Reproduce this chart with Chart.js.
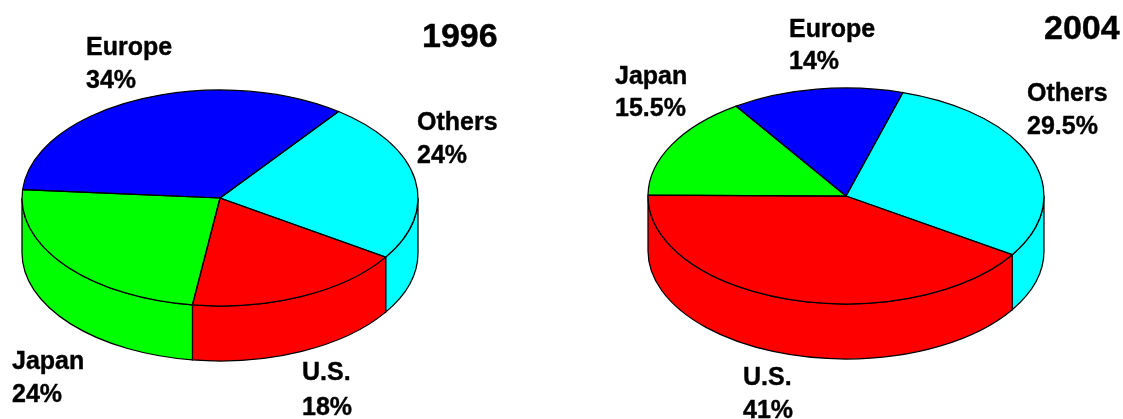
<!DOCTYPE html>
<html>
<head>
<meta charset="utf-8">
<script src="https://cdn.jsdelivr.net/npm/chart.js@4/dist/chart.umd.min.js"></script>
<style>
html,body{margin:0;padding:0;background:#fff;width:1123px;height:419px;overflow:hidden}
canvas{position:absolute;top:0}
</style>
</head>
<body>
<canvas id="c1" width="562" height="419" style="left:0"></canvas>
<canvas id="c2" width="562" height="419" style="left:561px"></canvas>
<script>
const categories = ["Europe", "Others", "U.S.", "Japan"];
const values1996 = [34, 24, 18, 24];
const values2004 = [14, 29.5, 41, 15.5];
const valueLabels1996 = ["34%", "24%", "18%", "24%"];
const valueLabels2004 = ["14%", "29.5%", "41%", "15.5%"];
const sliceColors = ["#0000ff", "#00ffff", "#ff0000", "#00ff00"];

const FONT = '"Liberation Sans", Arial, sans-serif';
const RX = 198, RY = 108, DEPTH = 55, LINE = 1.25;

const pie3d = {
  id: 'pie3d',
  beforeDatasetsDraw(chart, args, o) {
    const ctx = chart.ctx, arcs = chart.getDatasetMeta(0).data;
    const cx = arcs[0].x, k = RY / RX, TAU = Math.PI * 2;
    // side wall of each slice, visible only on the front half
    arcs.forEach((el) => {
      const s = ((el.startAngle % TAU) + TAU) % TAU;
      const span = el.endAngle - el.startAngle;
      [0, TAU].forEach((shift) => {
        const a = Math.max(s - shift, 0), b = Math.min(s + span - shift, Math.PI);
        if (b <= a) return;
        ctx.save();
        ctx.beginPath();
        ctx.ellipse(cx, o.cy, RX, RY, 0, a, b, false);
        ctx.ellipse(cx, o.cy + DEPTH, RX, RY, 0, b, a, true);
        ctx.closePath();
        ctx.fillStyle = el.options.backgroundColor;
        ctx.fill();
        ctx.lineWidth = LINE;
        ctx.strokeStyle = '#000';
        ctx.stroke();
        ctx.restore();
      });
    });
    // tilt the library's round pie into the ellipse of the top face
    ctx.save();
    ctx.translate(cx, o.cy);
    ctx.scale(1, k);
    ctx.translate(-cx, -arcs[0].y);
  },
  afterDatasetsDraw(chart, args, o) {
    const ctx = chart.ctx, arcs = chart.getDatasetMeta(0).data;
    ctx.restore();
    arcs.forEach((el) => {
      ctx.beginPath();
      ctx.moveTo(el.x, o.cy);
      ctx.ellipse(el.x, o.cy, RX, RY, 0, el.startAngle, el.endAngle, false);
      ctx.closePath();
      ctx.lineWidth = LINE;
      ctx.strokeStyle = '#000';
      ctx.stroke();
    });
  },
  afterDraw(chart, args, o) {
    const ctx = chart.ctx;
    const put = (t, x, y) => { ctx.fillText(t, x, y); ctx.strokeText(t, x, y); };
    ctx.save();
    ctx.fillStyle = '#000';
    ctx.strokeStyle = '#000';
    ctx.lineWidth = 0.4;
    ctx.lineJoin = 'round';
    ctx.textBaseline = 'alphabetic';
    ctx.textAlign = 'left';
    ctx.font = 'bold 25px ' + FONT;
    categories.forEach((name, i) => {
      const p = o.labelAt[i];
      put(name, p[0] - o.left, p[1]);
      put(o.valueLabels[i], p[0] - o.left, p[2]);
    });
    ctx.font = 'bold 34px ' + FONT;
    put(o.year, o.yearAt[0] - o.left, o.yearAt[1]);
    ctx.restore();
  }
};

function makePie(id, values, rotation, opts) {
  return new Chart(document.getElementById(id), {
    type: 'pie',
    data: {
      labels: categories,
      datasets: [{
        data: values,
        backgroundColor: sliceColors,
        borderWidth: 0,
        hoverOffset: 0,
        radius: RX,
        rotation: rotation
      }]
    },
    options: {
      responsive: false,
      animation: false,
      events: [],
      layout: { padding: opts.padding },
      plugins: {
        legend: { display: false },
        tooltip: { enabled: false },
        title: { display: false },
        pie3d: opts
      }
    },
    plugins: [pie3d]
  });
}

makePie('c1', values1996, 274.4, {
  left: 0,
  cy: 198,
  padding: { left: 22, right: 144, top: 0, bottom: 23 },
  year: '1996',
  yearAt: [422, 47],
  valueLabels: valueLabels1996,
  labelAt: [[86, 55, 88], [417, 130, 163], [302, 380, 415], [12, 369, 402]]
});

makePie('c2', values2004, 326.3, {
  left: 561,
  cy: 196,
  padding: { left: 87, right: 79, top: 0, bottom: 23 },
  year: '2004',
  yearAt: [1044, 39],
  valueLabels: valueLabels2004,
  labelAt: [[789, 37, 69], [1027, 101, 134], [743, 385, 418], [615, 84, 116]]
});
</script>
</body>
</html>
